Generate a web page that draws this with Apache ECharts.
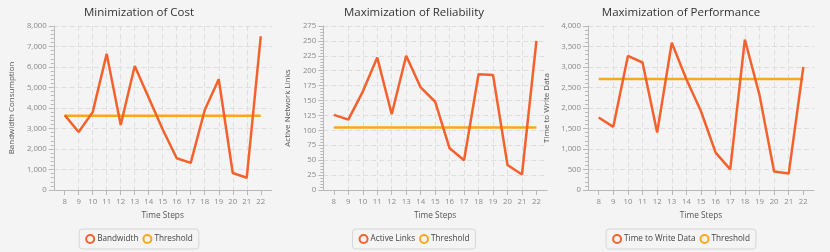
<!DOCTYPE html>
<html><head><meta charset="utf-8">
<script src="https://cdn.jsdelivr.net/npm/echarts@6/dist/echarts.min.js"></script>
<style>
html,body{margin:0;padding:0;background:#f4f4f4;width:830px;height:252px;overflow:hidden}
.c{position:absolute;top:0;height:252px}
</style></head><body>
<div id="c1" class="c" style="left:0;width:278px"></div>
<div id="c2" class="c" style="left:276px;width:276px"></div>
<div id="c3" class="c" style="left:532px;width:298px"></div>
<script>
// ---- data ----
const timeSteps = [8, 9, 10, 11, 12, 13, 14, 15, 16, 17, 18, 19, 20, 21, 22];

const bandwidth          = [3650, 2830, 3800, 6640, 3170, 6050, 4500, 2950, 1550, 1320, 3900, 5400, 830, 600, 7500];
const bandwidthThreshold = [3620, 3620, 3620, 3620, 3620, 3620, 3620, 3620, 3620, 3620, 3620, 3620, 3620, 3620, 3620];

const activeLinks    = [126, 118, 165, 222, 127, 225, 172, 148, 70, 50, 194, 193, 42, 26, 250];
const linksThreshold = [105, 105, 105, 105, 105, 105, 105, 105, 105, 105, 105, 105, 105, 105, 105];

const writeTime      = [1770, 1540, 3270, 3110, 1400, 3590, 2700, 1920, 910, 504, 3670, 2320, 450, 400, 3000];
const writeThreshold = [2710, 2710, 2710, 2710, 2710, 2710, 2710, 2710, 2710, 2710, 2710, 2710, 2710, 2710, 2710];

const costTicks        = [0, 1000, 2000, 3000, 4000, 5000, 6000, 7000, 8000];
const reliabilityTicks = [0, 25, 50, 75, 100, 125, 150, 175, 200, 225, 250, 275];
const performanceTicks = [0, 500, 1000, 1500, 2000, 2500, 3000, 3500, 4000];

// ---- styling ----
const FONT = 'Open Sans';
const C1 = '#f3622d', C2 = '#fba71b';
const AXIS = '#b8b8b8', GRID = '#dedede', LABEL = '#8a8a8a', NAME = '#555555';

function pairs(xs, ys) { return xs.map((x, i) => [x, ys[i]]); }

function build(cfg) {
  const yt = cfg.ticks;
  return {
    backgroundColor: 'transparent',
    animation: false,
    textStyle: { fontFamily: FONT },
    title: {
      text: cfg.title, left: 'center', top: 2,
      textStyle: { fontFamily: FONT, fontSize: 11.5, fontWeight: 'normal', color: '#333' }
    },
    legend: {
      left: 'center', top: 229,
      padding: [5, 6], borderColor: '#d6d6d6', borderWidth: 1, borderRadius: 3,
      backgroundColor: '#f4f4f4',
      itemWidth: 8, itemHeight: 8, itemGap: 4,
      textStyle: { fontFamily: FONT, fontSize: 8.2, color: '#444', padding: [0, 0, 0, -2] },
      data: [
        { name: cfg.names[0], icon: 'circle', itemStyle: { color: '#f4f4f4', borderColor: C1, borderWidth: 2 } },
        { name: cfg.names[1], icon: 'circle', itemStyle: { color: '#f4f4f4', borderColor: C2, borderWidth: 2 } }
      ]
    },
    grid: { left: cfg.left, right: cfg.right, top: 26, bottom: 62, containLabel: false },
    xAxis: {
      type: 'value',
      min: timeSteps[0] - cfg.pad, max: timeSteps[timeSteps.length - 1] + cfg.pad,
      splitNumber: 15,
      name: 'Time Steps', nameLocation: 'middle', nameGap: 22,
      nameTextStyle: { fontFamily: FONT, fontSize: 8.3, color: NAME },
      axisLine: { show: true, lineStyle: { color: AXIS, width: 1 } },
      axisTick: { show: true, length: 5, lineStyle: { color: AXIS }, customValues: timeSteps },
      axisLabel: { fontFamily: FONT, fontSize: 7.8, color: LABEL, margin: 8, customValues: timeSteps,
        formatter: v => String(v) },
      splitLine: { show: true, showMinLine: false, showMaxLine: false, lineStyle: { color: GRID, type: [5, 3], width: 1 } }
    },
    yAxis: {
      type: 'value', min: yt[0], max: yt[yt.length - 1], interval: yt[1] - yt[0],
      name: cfg.yName, nameLocation: 'middle', nameGap: cfg.nameGap,
      nameTextStyle: { fontFamily: FONT, fontSize: 8, color: NAME },
      axisLine: { show: true, lineStyle: { color: AXIS, width: 1 } },
      axisTick: { show: true, length: 5, lineStyle: { color: AXIS } },
      minorTick: { show: true, splitNumber: 5, length: 3, lineStyle: { color: AXIS } },
      axisLabel: { fontFamily: FONT, fontSize: 7.8, color: LABEL, margin: 7,
        formatter: v => v.toLocaleString('en-US') },
      splitLine: { show: true, lineStyle: { color: GRID, type: [5, 3], width: 1 } }
    },
    series: [
      { name: cfg.names[0], type: 'line', data: pairs(timeSteps, cfg.values), symbol: 'none',
        lineStyle: { color: C1, width: 2.5 }, itemStyle: { color: C1 }, z: 3 },
      { name: cfg.names[1], type: 'line', data: pairs(timeSteps, cfg.threshold), symbol: 'none',
        lineStyle: { color: C2, width: 2.5 }, itemStyle: { color: C2 }, z: 2 }
    ]
  };
}

const charts = [
  { id: 'c1', title: 'Minimization of Cost', yName: 'Bandwidth Consumption', names: ['Bandwidth', 'Threshold'],
    values: bandwidth, threshold: bandwidthThreshold, ticks: costTicks, left: 44.5, right: 6.3, pad: 0.78, nameGap: 25 },
  { id: 'c2', title: 'Maximization of Reliability', yName: 'Active Network Links', names: ['Active Links', 'Threshold'],
    values: activeLinks, threshold: linksThreshold, ticks: reliabilityTicks, left: 40.5, right: 5, pad: 0.73, nameGap: 21 },
  { id: 'c3', title: 'Maximization of Performance', yName: 'Time to Write Data', names: ['Time to Write Data', 'Threshold'],
    values: writeTime, threshold: writeThreshold, ticks: performanceTicks, left: 56, right: 16, pad: 0.73, nameGap: 27 }
];

charts.forEach(cfg => {
  const ch = echarts.init(document.getElementById(cfg.id), null, { renderer: 'canvas' });
  ch.setOption(build(cfg));
});
</script>
</body></html>
